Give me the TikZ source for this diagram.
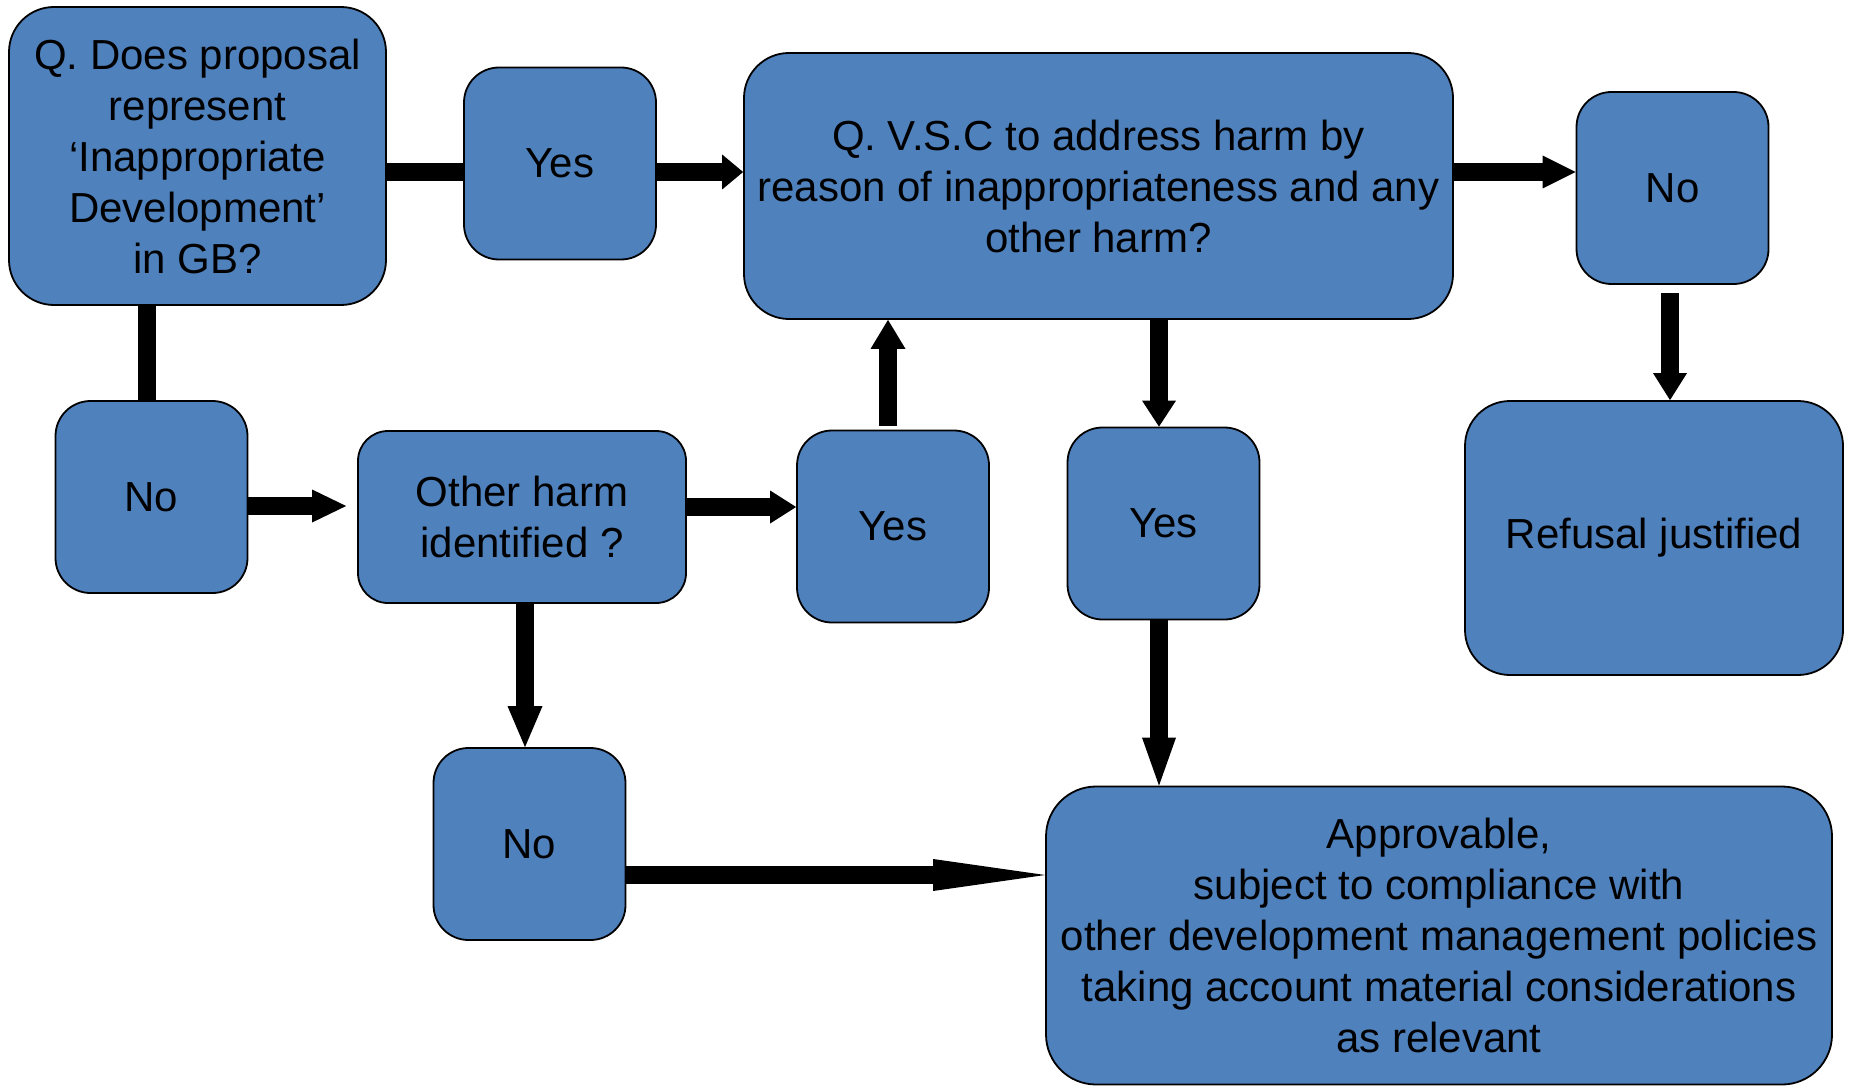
\documentclass[tikz,border=0pt]{standalone}
\usepackage{fontspec}
\setmainfont{Liberation Sans}
\usepackage{tikz}
\usetikzlibrary{arrows.meta,calc}
\definecolor{boxblue}{HTML}{4F81BD}

\begin{document}
\begin{tikzpicture}[
            x=1pt, y=-1pt,
            every node/.style={draw=black, line width=1.8pt, fill=boxblue, rounded corners=35pt,
                inner sep=0pt, align=center, font=\fontsize{42}{51}\selectfont},
            small/.style={minimum width=192pt, minimum height=192pt},
            link/.style={line width=18pt},
            arr/.style 2 args={line width=18pt, -{Triangle[length=#1, width=#2, line width=0pt]}}
        ]
            \useasboundingbox (0,0) rectangle (1851,1086);

            \node[minimum width=377pt, minimum height=298pt, rounded corners=45pt] (qgb) at (197.5,156)
                {Q. Does proposal\\represent\\‘Inappropriate\\Development’\\in GB?};
            \node[small] (yesA) at (560,163.5) {Yes};
            \node[minimum width=709pt, minimum height=266pt, rounded corners=45pt] (qvsc) at (1098.5,186)
                {Q. V.S.C to address harm by\\reason of inappropriateness and any\\other harm?};
            \node[small] (noA) at (1672.5,188) {No};
            \node[small] (noB) at (151.5,497) {No};
            \node[minimum width=328pt, minimum height=172pt, rounded corners=30pt] (harm) at (522,517)
                {Other harm\\identified ?};
            \node[small] (yesB) at (893,526.5) {Yes};
            \node[small] (yesC) at (1163.5,523.5) {Yes};
            \node[minimum width=378pt, minimum height=274pt, rounded corners=45pt] (refusal) at (1654,538)
                {Refusal justified};
            \node[small] (noC) at (529.5,844) {No};
            \node[minimum width=786pt, minimum height=298pt, rounded corners=50pt] (approv) at (1439,935.5)
                {Approvable,\\subject to compliance with\\other development management policies\\taking account material considerations\\as relevant};

            \draw[link] ([yshift=-16pt]qgb.east) -- ([yshift=-16pt]qgb.east -| yesA.west);
            \draw[arr={21pt}{35pt}] ([yshift=-8.5pt]yesA.east) -- ([yshift=-8.5pt]yesA.east -| qvsc.west);
            \draw[arr={33pt}{33pt}] ([yshift=14pt]qvsc.east) -- ([yshift=14pt]qvsc.east -| noA.west);
            \draw[arr={27pt}{34pt}] ([xshift=-2.5pt,yshift=-8pt]noA.south) -- ([xshift=-2.5pt]noA.south |- refusal.north);
            \draw[link] ([xshift=-4.5pt]noB.north) -- ([xshift=-4.5pt]noB.north |- qgb.south);
            \draw[arr={34pt}{33pt}] ([yshift=-9pt]noB.east) -- ([xshift=-11pt,yshift=-9pt]noB.east -| harm.west);
            \draw[arr={26pt}{33pt}] ([yshift=10pt]harm.east) -- ([yshift=10pt]harm.east -| yesB.west);
            \draw[arr={29pt}{35pt}] ([xshift=-5pt,yshift=4pt]yesB.north) -- ([xshift=-5pt]yesB.north |- qvsc.south);
            \draw[arr={26pt}{34pt}] ([xshift=-4.5pt]yesC.north |- qvsc.south) -- ([xshift=-4.5pt]yesC.north);
            \draw[arr={48pt}{34pt}] ([xshift=-4.5pt]yesC.south) -- ([xshift=-4.5pt]yesC.south |- approv.north);
            \draw[arr={41pt}{35pt}] ([xshift=3pt]harm.south) -- ([xshift=3pt]harm.south |- noC.north);
            \draw[arr={112pt}{32pt}] ([yshift=-31pt]noC.east) -- ([yshift=-31pt]noC.east -| approv.west);
        \end{tikzpicture}
\end{document}
